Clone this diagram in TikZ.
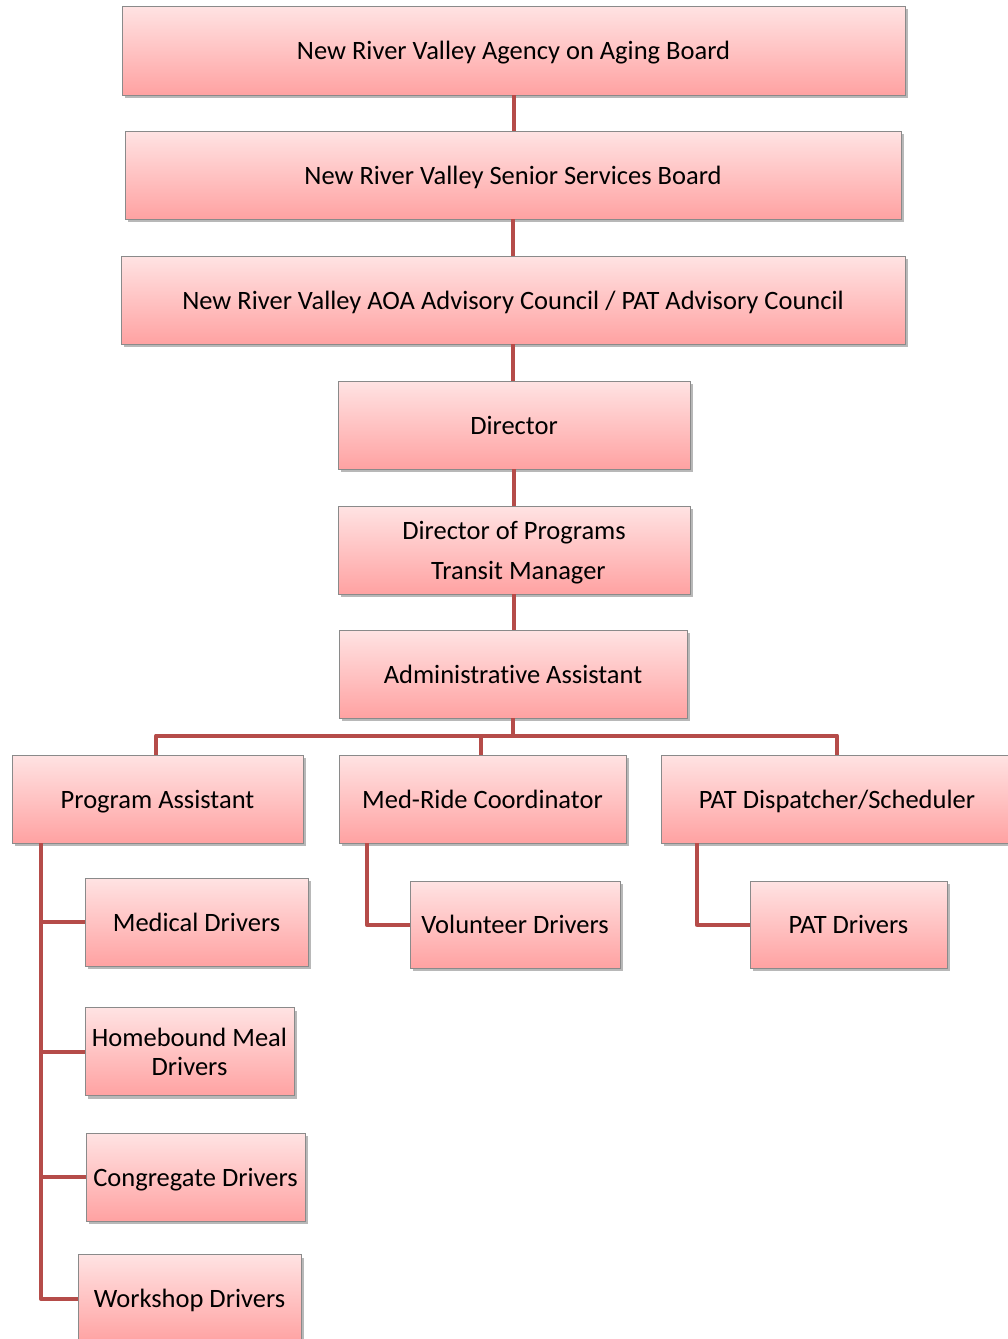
\documentclass[tikz,border=0pt]{standalone}
\usepackage{fontspec}
\setmainfont{Carlito}[Ligatures={NoCommon}]
\usetikzlibrary{shadows}
\definecolor{conncol}{HTML}{B54C49}
\definecolor{boxtop}{HTML}{FFE3E3}
\definecolor{boxbot}{HTML}{FFA2A2}
\definecolor{boxline}{HTML}{8A8A8A}
\tikzset{
  box/.style={draw=boxline, line width=0.9pt, top color=boxtop, bottom color=boxbot,
    inner sep=0pt, align=center, font=\fontsize{26.5}{30}\selectfont,
    text height=18.5pt, text depth=0pt,
    drop shadow={shadow xshift=2.5pt, shadow yshift=-3pt, opacity=0.28, fill=black}},
  conn/.style={draw=conncol, line width=4pt, line join=round, line cap=butt}
}
\begin{document}
\begin{tikzpicture}[x=1pt,y=-1pt]
\useasboundingbox (0,0) rectangle (1008,1339);
\node[box, minimum width=783, minimum height=89] (b1) at (513.5,50.5) {New River Valley Agency on Aging Board};
\node[box, minimum width=776, minimum height=88] (b2) at (513,175) {New River Valley Senior Services Board};
\node[box, minimum width=784, minimum height=88] (b3) at (513,300) {New River Valley AOA Advisory Council / PAT Advisory Council};
\node[box, minimum width=352, minimum height=88] (dir) at (514,425) {Director};
\node[box, minimum width=352, minimum height=88, text height=, text depth=0pt] (dop) at (514,550) {Director of Programs\\[10pt]\,\,Transit Manager};
\node[box, minimum width=348, minimum height=88] (adm) at (513,674) {Administrative Assistant};
\node[box, minimum width=291, minimum height=88] (pa) at (157.5,799) {Program Assistant};
\node[box, minimum width=287, minimum height=88] (mr) at (482.5,799) {Med-Ride Coordinator};
\node[box, minimum width=352, minimum height=88] (pat) at (837,799) {PAT Dispatcher/Scheduler};
\node[box, minimum width=223, minimum height=88] (md) at (196.5,922) {Medical Drivers};
\node[box, minimum width=210, minimum height=87] (vd) at (515,924.5) {Volunteer Drivers};
\node[box, minimum width=197, minimum height=87] (pd) at (848.5,924.5) {PAT Drivers};
\node[box, minimum width=209, minimum height=88, text height=, text depth=, font=\fontsize{26.5}{29}\selectfont] (hb) at (189.5,1051.5) {Homebound Meal\\Drivers};
\node[box, minimum width=219, minimum height=88] (cg) at (195.5,1177) {Congregate Drivers};
\node[box, minimum width=223, minimum height=88] (wd) at (189.5,1298.5) {Workshop Drivers};

\draw[conn] (b1.south) -- (b1.south |- b2.north);
\draw[conn] (b2.south) -- (b2.south |- b3.north);
\draw[conn] (b3.south) -- (b3.south |- dir.north);
\draw[conn] (dir.south) -- (dir.south |- dop.north);
\draw[conn] (dop.south) -- (dop.south |- adm.north);
\draw[conn] (adm.south) -- ++(0,18);
\draw[conn] ([xshift=-1.5pt]pa.north) -- ++(0,-19) -| (pat.north);
\draw[conn] ([xshift=-1.5pt]mr.north) -- ++(0,-19);
\coordinate (patrunk) at ([xshift=29pt]pa.south west);
\draw[conn] (patrunk) |- (wd.west);
\draw[conn] (patrunk) |- (md.west);
\draw[conn] (patrunk) |- (hb.west);
\draw[conn] (patrunk) |- (cg.west);
\draw[conn] ([xshift=28pt]mr.south west) |- (vd.west);
\draw[conn] ([xshift=36pt]pat.south west) |- (pd.west);
\end{tikzpicture}
\end{document}
